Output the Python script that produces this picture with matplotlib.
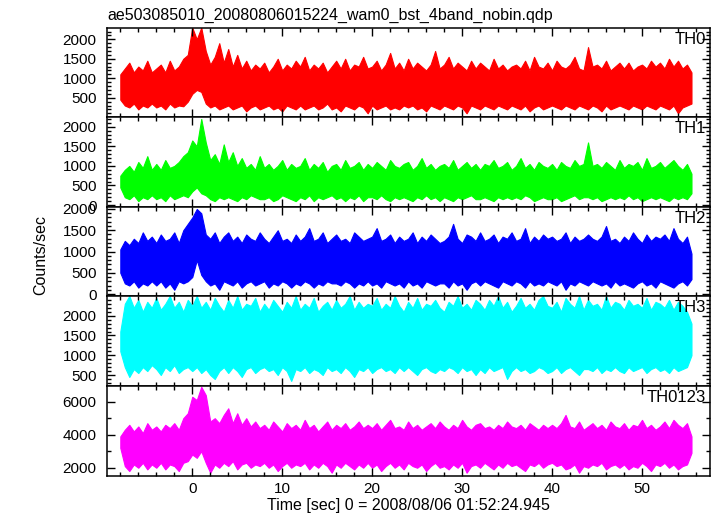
import matplotlib
matplotlib.use('Agg')
import matplotlib.pyplot as plt
from matplotlib.ticker import MultipleLocator
import numpy as np

plt.rcParams['font.family'] = ['Liberation Sans', 'DejaVu Sans']

title = 'ae503085010_20080806015224_wam0_bst_4band_nobin.qdp'
xlabel = 'Time [sec] 0 = 2008/08/06 01:52:24.945'
ylabel = 'Counts/sec'
bands = ['TH0', 'TH1', 'TH2', 'TH3', 'TH0123']
colors = ['#ff0000', '#00ff00', '#0000ff', '#00ffff', '#ff00ff']

# time of the first envelope sample and spacing (sec)
t_start = -8.0
t_step = 0.5

# upper / lower envelope of each light curve, read every 0.5 s
th0_hi = [1100, 1250, 1400, 1150, 1300, 1200, 1450, 1150,
          1250, 1350, 1150, 1450, 1200, 1300, 1500, 1600,
          2300, 2000, 2300, 1700, 1350, 1550, 1900, 1400,
          1750, 1300, 1600, 1250, 1450, 1200, 1350, 1250,
          1400, 1150, 1300, 1500, 1200, 1350, 1250, 1450,
          1300, 1550, 1200, 1350, 1250, 1400, 1150, 1300,
          1450, 1250, 1500, 1200, 1350, 1300, 1550, 1250,
          1300, 1450, 1200, 1350, 1650, 1250, 1400, 1200,
          1500, 1250, 1400, 1300, 1200, 1350, 1700, 1250,
          1350, 1550, 1250, 1400, 1300, 1200, 1450, 1250,
          1400, 1300, 1200, 1500, 1250, 1350, 1200, 1300,
          1350, 1250, 1450, 1200, 1550, 1300, 1250, 1400,
          1200, 1450, 1300, 1250, 1350, 1550, 1250, 1200,
          1800, 1300, 1350, 1250, 1450, 1200, 1300, 1400,
          1250, 1400, 1200, 1300, 1350, 1250, 1450, 1300,
          1400, 1250, 1500, 1300, 1450, 1250, 1350, 1150]
th0_lo = [450, 300, 250, 350, 200, 300, 250, 350,
          250, 300, 200, 350, 250, 300, 280, 400,
          600, 700, 650, 350, 250, 300, 200, 250,
          300, 200, 250, 300, 150, 250, 300, 200,
          250, 300, 200, 250, 150, 300, 250, 200,
          300, 200, 250, 300, 200, 250, 350, 200,
          250, 150, 300, 250, 200, 300, 250, 100,
          300, 200, 250, 300, 200, 250, 200, 300,
          250, 300, 200, 250, 150, 300, 250, 200,
          300, 250, 200, 300, 250, 100, 300, 250,
          200, 300, 250, 200, 300, 250, 200, 300,
          250, 200, 300, 150, 250, 300, 200, 250,
          300, 250, 200, 300, 250, 200, 300, 250,
          200, 300, 250, 150, 300, 200, 250, 300,
          250, 200, 300, 250, 200, 300, 250, 200,
          300, 250, 200, 300, 100, 250, 300, 350]

th1_hi = [750, 900, 1000, 850, 1100, 950, 1250, 900,
          1050, 900, 1150, 950, 1000, 1100, 1250, 1350,
          1650, 1500, 2200, 1600, 1150, 1300, 1050, 1550,
          1100, 1350, 1000, 1200, 950, 1050, 900, 1250,
          950, 1050, 900, 1000, 1150, 900, 1050, 950,
          1000, 1200, 900, 1050, 950, 1100, 850, 1000,
          1050, 900, 1150, 950, 1000, 1100, 900, 1050,
          950, 1100, 1000, 900, 1150, 1000, 950, 1050,
          1100, 900, 1000, 1200, 950, 1050, 900, 1000,
          1050, 950, 1150, 900, 1000, 1100, 950, 1050,
          900, 1050, 1000, 1150, 950, 1000, 1100, 900,
          1000, 1200, 950, 1050, 900, 1100, 1000, 950,
          1050, 900, 1100, 1000, 950, 1150, 1000, 1050,
          1600, 1000, 1050, 950, 1100, 1000, 900, 1150,
          950, 1050, 1000, 1100, 900, 1200, 950, 1000,
          1100, 950, 1050, 1150, 1000, 900, 1050, 800]
th1_lo = [450, 200, 150, 250, 100, 200, 150, 250,
          150, 200, 100, 250, 150, 200, 250, 200,
          350, 450, 300, 250, 150, 100, 200, 150,
          200, 150, 100, 200, 150, 250, 200, 150,
          150, 200, 100, 150, 250, 200, 150, 100,
          200, 150, 250, 100, 200, 150, 200, 250,
          150, 200, 100, 200, 150, 250, 100, 200,
          200, 150, 250, 150, 100, 200, 150, 200,
          150, 100, 200, 150, 250, 150, 200, 100,
          200, 150, 100, 200, 150, 200, 250, 150,
          150, 200, 150, 100, 200, 150, 200, 150,
          200, 150, 250, 200, 100, 150, 200, 150,
          150, 200, 100, 150, 200, 250, 150, 200,
          200, 150, 200, 100, 150, 200, 150, 200,
          150, 250, 150, 200, 100, 150, 200, 150,
          200, 150, 100, 200, 150, 200, 150, 300]

th2_hi = [1050, 1250, 1150, 1300, 1200, 1450, 1250, 1350,
          1200, 1400, 1250, 1300, 1450, 1200, 1500, 1650,
          1800, 2000, 1900, 1400, 1300, 1450, 1200, 1350,
          1450, 1250, 1350, 1200, 1400, 1300, 1250, 1450,
          1300, 1200, 1350, 1500, 1250, 1300, 1200, 1400,
          1250, 1350, 1550, 1250, 1300, 1450, 1200, 1300,
          1400, 1250, 1300, 1200, 1450, 1350, 1250, 1300,
          1350, 1550, 1250, 1300, 1400, 1200, 1350, 1250,
          1300, 1450, 1200, 1350, 1250, 1400, 1300, 1200,
          1250, 1350, 1650, 1300, 1200, 1400, 1350, 1250,
          1450, 1250, 1300, 1400, 1200, 1350, 1300, 1450,
          1250, 1300, 1550, 1200, 1350, 1250, 1400, 1300,
          1350, 1250, 1300, 1450, 1200, 1350, 1250, 1300,
          1400, 1300, 1250, 1350, 1600, 1250, 1300, 1200,
          1350, 1250, 1450, 1300, 1200, 1400, 1250, 1350,
          1300, 1400, 1250, 1550, 1300, 1200, 1350, 950]
th2_lo = [500, 250, 200, 300, 150, 250, 200, 300,
          200, 300, 150, 250, 100, 300, 250, 300,
          400, 800, 450, 300, 200, 250, 100, 300,
          250, 200, 300, 150, 250, 300, 200, 250,
          300, 150, 250, 200, 300, 250, 150, 250,
          200, 300, 250, 150, 250, 200, 300, 250,
          250, 200, 300, 250, 150, 250, 200, 300,
          200, 250, 150, 300, 250, 200, 250, 150,
          300, 200, 250, 150, 300, 250, 200, 250,
          250, 150, 300, 200, 250, 100, 250, 300,
          200, 300, 250, 200, 150, 300, 250, 200,
          300, 250, 150, 300, 200, 250, 200, 300,
          250, 200, 300, 100, 250, 200, 300, 250,
          200, 300, 250, 200, 250, 150, 300, 200,
          250, 200, 150, 250, 300, 200, 250, 150,
          300, 250, 200, 150, 250, 300, 200, 350]

th3_hi = [1600, 2300, 2500, 2200, 2400, 2100, 2350, 2200,
          2450, 2150, 2300, 2500, 2200, 2350, 2100, 2400,
          2250, 2500, 2200, 2350, 2150, 2450, 2250, 2100,
          2400, 2200, 2500, 2150, 2300, 2250, 2450, 2100,
          2300, 2150, 2400, 2250, 2100, 2350, 2200, 2500,
          2150, 2300, 2200, 2450, 2100, 2250, 2350, 2150,
          2400, 2200, 2300, 2500, 2150, 2350, 2200, 2300,
          2250, 2450, 2150, 2300, 2200, 2500, 2250, 2100,
          2350, 2200, 2450, 2150, 2300, 2250, 2400, 2200,
          2100, 2350, 2250, 2500, 2200, 2300, 2150, 2400,
          2300, 2150, 2400, 2250, 2500, 2200, 2350, 2100,
          2250, 2450, 2200, 2300, 2150, 2400, 2500, 2250,
          2200, 2350, 2100, 2450, 2300, 2200, 2500, 2150,
          2400, 2250, 2300, 2150, 2500, 2200, 2350, 2300,
          2150, 2400, 2250, 2300, 2200, 2450, 2150, 2350,
          2300, 2200, 2400, 2150, 2350, 2250, 2100, 1800]
th3_lo = [1100, 700, 450, 650, 550, 700, 600, 750,
          650, 500, 700, 600, 750, 550, 650, 700,
          600, 700, 550, 650, 500, 400, 600, 700,
          550, 700, 600, 450, 650, 700, 550, 650,
          700, 600, 650, 500, 700, 600, 350, 650,
          600, 700, 550, 650, 600, 500, 700, 600,
          650, 550, 700, 600, 450, 650, 600, 700,
          550, 650, 700, 600, 650, 550, 700, 600,
          700, 600, 500, 650, 700, 600, 550, 650,
          600, 700, 650, 550, 700, 600, 650, 500,
          650, 550, 700, 600, 650, 700, 400, 600,
          700, 600, 650, 550, 600, 700, 650, 550,
          600, 700, 550, 650, 700, 600, 500, 650,
          650, 600, 700, 550, 650, 600, 700, 600,
          550, 700, 600, 650, 700, 550, 650, 700,
          600, 650, 550, 700, 600, 650, 700, 1000]

th0123_hi = [3900, 4300, 4600, 4200, 4500, 4100, 4700, 4300,
             4500, 4200, 4600, 4400, 4700, 4300, 5000, 5300,
             6300, 6100, 6900, 6400, 4800, 5000, 4700, 5200,
             5600, 4700, 5300, 4600, 5000, 4500, 4800, 4400,
             4600, 4300, 4800, 4500, 4200, 4700, 4400, 4600,
             4300, 4900, 4400, 4600, 4200, 4500, 4800, 4300,
             4600, 4400, 4700, 4300, 4500, 4800, 4400, 4600,
             4400, 4700, 4300, 4600, 4900, 4400, 4500, 4300,
             4800, 4400, 4600, 4300, 4500, 4700, 4400, 4800,
             4500, 4300, 4600, 4400, 4900, 4500, 4300, 4600,
             4700, 4400, 4500, 4300, 4600, 4400, 4800, 4500,
             4400, 4600, 4300, 4700, 4500, 4300, 4600, 4400,
             4600, 4400, 4700, 5200, 4500, 4400, 4800, 4300,
             4500, 4700, 4400, 4600, 4300, 4800, 4500, 4400,
             4700, 4300, 4600, 4500, 4900, 4400, 4600, 4300,
             4500, 4800, 4400, 4900, 4600, 4400, 4700, 3900]
th0123_lo = [3200, 2100, 1800, 2200, 2000, 2300, 1900, 2200,
             2000, 2300, 1900, 2200, 2100, 1800, 2300, 2400,
             2800, 2600, 3000, 2300, 1700, 2200, 2000, 2300,
             2100, 2400, 1900, 2200, 2300, 2000, 2200, 2100,
             2300, 2000, 2200, 1800, 2100, 2300, 2000, 2200,
             2100, 2300, 1900, 2200, 2000, 2300, 2100, 1700,
             2200, 2000, 2300, 2100, 1900, 2200, 2000, 2300,
             2000, 2200, 1800, 2100, 2300, 2000, 2200, 1900,
             2300, 2100, 2000, 2200, 1800, 2100, 2300, 2000,
             2100, 1900, 2200, 2000, 2300, 1700, 2100, 2200,
             2000, 2300, 2100, 1900, 2200, 2000, 2300, 2100,
             2200, 2000, 1800, 2200, 2100, 2300, 2000, 2200,
             2300, 2100, 2200, 1900, 2000, 2200, 1700, 2100,
             2000, 2200, 2100, 2300, 1900, 2100, 2200, 2000,
             2200, 1900, 2100, 2000, 2300, 2100, 1800, 2200,
             2100, 2300, 2000, 2200, 1900, 2100, 2200, 2900]

highs = [th0_hi, th1_hi, th2_hi, th3_hi, th0123_hi]
lows = [th0_lo, th1_lo, th2_lo, th3_lo, th0123_lo]

# y ranges, tick spacing (major, minor) per panel
ylims = [(5, 2290), (-50, 2250), (-47, 2047), (222, 2498), (1500, 6950)]
yticks = [(500, 100), (500, 100), (500, 100), (500, 100), (2000, 1000)]
xlim = (-9.48, 57.56)

W, H = 717, 516
fig = plt.figure(figsize=(W / 100, H / 100), dpi=100)

# panel edges in pixels
left_px, right_px = 107, 710
edges_px = [28, 117, 207, 296, 386, 476]

axes = []
for i in range(5):
    top, bot = edges_px[i], edges_px[i + 1]
    ax = fig.add_axes([left_px / W, 1 - bot / H,
                       (right_px - left_px) / W, (bot - top) / H])
    axes.append(ax)

    hi = np.array(highs[i])
    lo = np.array(lows[i])
    t = t_start + t_step * np.arange(len(hi))
    ax.fill_between(t, lo, hi, color=colors[i], lw=0.8)

    ax.set_xlim(*xlim)
    ax.set_ylim(*ylims[i])
    ax.xaxis.set_major_locator(MultipleLocator(10))
    ax.xaxis.set_minor_locator(MultipleLocator(2))
    ax.yaxis.set_major_locator(MultipleLocator(yticks[i][0]))
    ax.yaxis.set_minor_locator(MultipleLocator(yticks[i][1]))
    ax.tick_params(which='both', direction='in', top=True, right=True,
                   width=1, labelsize=11, colors='black')
    ax.tick_params(axis='y', pad=7.5)
    ax.tick_params(axis='x', pad=4)
    ax.tick_params(which='major', length=6)
    ax.tick_params(which='minor', length=3)
    for s in ax.spines.values():
        s.set_linewidth(1.1)
    if i < 4:
        ax.tick_params(labelbottom=False)
    ax.text(0.993, 0.96, bands[i], transform=ax.transAxes, ha='right',
            va='top', fontsize=12)

axes[0].set_title(title, loc='left', fontsize=11.5, pad=6)
axes[-1].set_xlabel(xlabel, fontsize=11.5, labelpad=2)
fig.text(41 / W, 1 - 255 / H, ylabel, rotation=90, ha='center',
         va='center', fontsize=11.5)

fig.savefig('out.png', dpi=100)
